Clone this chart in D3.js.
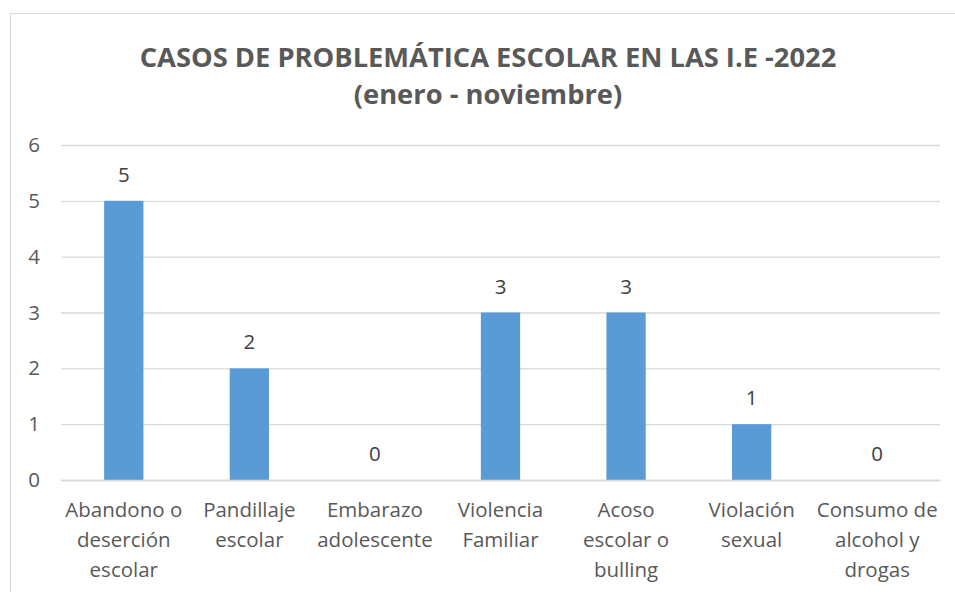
<!DOCTYPE html>
<html><head><meta charset="utf-8">
<script src="https://cdn.jsdelivr.net/npm/d3@7"></script>
<style>
html,body{margin:0;padding:0;background:#fff;}
text{font-family:"Open Sans",Lato,sans-serif;}
</style></head>
<body><svg id="c" width="955" height="592"></svg>
<script>
const categories = ["Abandono o\ndeserción\nescolar","Pandillaje\nescolar","Embarazo\nadolescente","Violencia\nFamiliar","Acoso\nescolar o\nbulling","Violación\nsexual","Consumo de\nalcohol y\ndrogas"];
const values = [5,2,0,3,3,1,0];
const yTicks = [0,1,2,3,4,5,6];
const titleLines = ["CASOS DE PROBLEMÁTICA ESCOLAR EN LAS I.E -2022","(enero - noviembre)"];

const svg = d3.select("#c");
svg.append("rect").attr("x",10.5).attr("y",13.5).attr("width",970).attr("height",620)
  .attr("fill","#fff").attr("stroke","#d9d9d9").attr("stroke-width",1);

const m = {left:61, right:940, top:145, bottom:480};
const x = d3.scaleBand().domain(categories).range([m.left,m.right]).paddingInner(0.687).paddingOuter(0.3435);
const y = d3.scaleLinear().domain([0,6]).range([m.bottom,m.top]);

const gy = svg.append("g").attr("transform",`translate(${m.left},0)`)
  .call(d3.axisLeft(y).tickValues(yTicks).tickFormat(d3.format("d")).tickSize(-(m.right-m.left)).tickPadding(21));
gy.attr("font-family",null);
gy.select(".domain").remove();
gy.selectAll(".tick line").attr("stroke","#d9d9d9").attr("stroke-width",1.3);
gy.selectAll(".tick text").attr("fill","#595959").style("font-size","20.5px");

svg.append("g").selectAll("rect").data(values).join("rect")
  .attr("x",(d,i)=>x(categories[i])).attr("width",x.bandwidth())
  .attr("y",d=>y(d)).attr("height",d=>y(0)-y(d)).attr("fill","#5b9bd5");

svg.append("g").selectAll("text").data(values).join("text")
  .attr("x",(d,i)=>x(categories[i])+x.bandwidth()/2).attr("y",d=>y(d)-19)
  .attr("text-anchor","middle").attr("fill","#404040").style("font-size","20.5px").text(d=>d);

const gx = svg.append("g").attr("transform",`translate(0,${m.bottom})`)
  .call(d3.axisBottom(x).tickSize(0).tickFormat(""));
gx.attr("font-family",null);
gx.select(".domain").attr("stroke","#d9d9d9").attr("stroke-width",1.3);
gx.selectAll(".tick").each(function(c){
  const t = d3.select(this).append("text").attr("text-anchor","middle").attr("fill","#595959").style("font-size","20.5px");
  c.split("\n").forEach((l,i)=>t.append("tspan").attr("x",0).attr("y",37+i*30).text(l));
});

svg.append("g").selectAll("text").data(titleLines).join("text")
  .attr("x",488).attr("y",(d,i)=>67+i*37).attr("text-anchor","middle")
  .attr("fill","#595959").style("font-size","27.3px").style("font-weight","bold").text(d=>d);
</script></body></html>
